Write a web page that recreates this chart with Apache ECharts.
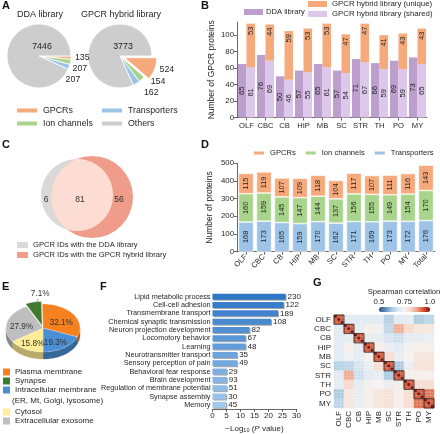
<!DOCTYPE html>
<html><head><meta charset="utf-8">
<script src="https://cdn.jsdelivr.net/npm/echarts@6/dist/echarts.min.js"></script>
<style>html,body{margin:0;padding:0;background:#fff}#c{width:440px;height:434px}</style>
</head><body><div id="c"></div>
<script>
// ---------- DATA ----------
// Panel A
const pieNames = ['GPCRs', 'Ion channels', 'Transporters', 'Others'];
const ddaPie = [135, 207, 207, 7446];
const hybridPie = [524, 154, 162, 3773];
// Panel B
const regions = ['OLF', 'CBC', 'CB', 'HIP', 'MB', 'SC', 'STR', 'TH', 'PO', 'MY'];
const ddaGpcr = [65, 76, 50, 57, 65, 57, 71, 66, 69, 73];
const hybridShared = [61, 69, 46, 55, 61, 54, 67, 59, 59, 65];
const hybridUnique = [53, 44, 59, 53, 53, 47, 47, 41, 43, 43];
const bTicks = [0, 20, 40, 60, 80, 100];
// Panel C
const vennDdaOnly = 6, vennShared = 81, vennHybridOnly = 56;
// Panel D
const dCats = ['OLF', 'CBC', 'CB', 'HIP', 'MB', 'SC', 'STR', 'TH', 'PO', 'MY', 'Total'];
const dTransporters = [168, 173, 165, 159, 170, 162, 171, 169, 173, 172, 176];
const dIon = [160, 159, 145, 147, 144, 137, 156, 155, 149, 154, 170];
const dGpcr = [115, 119, 107, 109, 118, 104, 117, 107, 111, 116, 143];
// Panel E
const eNames = ['Plasma membrane', 'Intracellular membrane', 'Cytosol', 'Extracellular exosome', 'Synapse'];
const ePct = [32.1, 19.3, 15.8, 27.9, 7.1];
// Panel F
const fTerms = ['Lipid metabolic process', 'Cell-cell adhesion', 'Transmembrane transport', 'Chemical synaptic transmission',
  'Neuron projection development', 'Locomotory behavior', 'Learning', 'Neurotransmitter transport',
  'Sensory perception of pain', 'Behavioral fear response', 'Brain development',
  'Regulation of membrane potential', 'Synapse assembly', 'Memory'];
const fLogP = [26.1, 25.4, 23.4, 20.9, 13.2, 11.8, 11.8, 8.8, 8.8, 5.1, 5.1, 5.1, 4.9, 4.9];
const fCounts = [230, 122, 189, 108, 82, 67, 48, 35, 49, 29, 93, 51, 30, 45];
// Panel G (region-level Spearman correlation; diagonal = within-region replicate correlation)
const gCorr = [
  [0.93, 0.70, 0.70, 0.70, 0.70, 0.64, 0.70, 0.71, 0.63, 0.65],
  [0.70, 0.93, 0.71, 0.76, 0.73, 0.65, 0.86, 0.81, 0.78, 0.78],
  [0.70, 0.71, 0.93, 0.71, 0.71, 0.68, 0.67, 0.71, 0.71, 0.72],
  [0.70, 0.76, 0.71, 0.93, 0.76, 0.72, 0.70, 0.74, 0.76, 0.76],
  [0.70, 0.73, 0.71, 0.76, 0.93, 0.80, 0.72, 0.75, 0.78, 0.78],
  [0.64, 0.65, 0.68, 0.72, 0.80, 0.93, 0.63, 0.72, 0.79, 0.79],
  [0.70, 0.86, 0.67, 0.70, 0.72, 0.63, 0.93, 0.76, 0.76, 0.76],
  [0.71, 0.81, 0.71, 0.74, 0.75, 0.72, 0.76, 0.93, 0.80, 0.80],
  [0.63, 0.78, 0.71, 0.76, 0.78, 0.79, 0.76, 0.80, 0.93, 0.91],
  [0.65, 0.78, 0.72, 0.76, 0.78, 0.79, 0.76, 0.80, 0.91, 0.93]
];
const gSelf = 1.0;
const gReps = 3;

// ---------- STYLE ----------
const FONT = '"Liberation Sans", Arial, sans-serif';
const TXT = '#262626';
const C_OR = '#F6A97B', C_GR = '#A9D48C', C_BL = '#9DC3E6', C_GY = '#CDCDCD';
const C_DDA = '#BC9FCD', C_SH = '#DDC7EA';
const axLine = { show: true, lineStyle: { color: '#444', width: 0.8 } };
const axTick = { show: true, length: 3, lineStyle: { color: '#444', width: 0.8 } };
const lbl = (fs) => ({ fontSize: fs, color: TXT, fontFamily: FONT });

const chart = echarts.init(document.getElementById('c'), null, { renderer: 'canvas' });

// titles
const title = [
  ['A', 2, 0], ['B', 201, 0], ['C', 2, 139], ['D', 201, 139], ['E', 2, 281], ['F', 100, 281], ['G', 313, 277]
].map(([t, l, tp]) => ({ text: t, left: l, top: tp, padding: 0, textStyle: { fontSize: 11, fontWeight: 'bold', color: '#111', fontFamily: FONT } }));
const tStyle = (fs) => ({ fontSize: fs, fontWeight: 'normal', color: TXT, fontFamily: FONT });
title.push({ text: 'DDA library', left: 40, top: 10, textAlign: 'center', padding: 0, textStyle: tStyle(9) });
title.push({ text: 'GPCR hybrid library', left: 121, top: 10, textAlign: 'center', padding: 0, textStyle: tStyle(9) });
title.push({ text: 'Spearman correlation', left: 404, top: 288, textAlign: 'center', padding: 0, textStyle: tStyle(7.6) });
title.push({ text: '(ER, Mt, Golgi, lysosome)', left: 12, top: 397, padding: 0, textStyle: tStyle(8) });

// ---------- SERIES ----------
const series = [];
const pieColors = [C_OR, C_GR, C_BL, C_GY];
function pieSeries(vals, cx, explode) {
  return {
    type: 'pie', center: [cx, 56], radius: [0, 32], startAngle: 0, clockwise: true,
    selectedMode: explode ? 'single' : false, selectedOffset: 5, silent: true,
    avoidLabelOverlap: true,
    itemStyle: { borderColor: '#fff', borderWidth: 0.8 },
    label: { show: true, position: 'outside', formatter: '{c}', ...lbl(8.8) },
    labelLine: { show: false, length: 3, length2: 1 },
    data: pieNames.map((n, i) => ({
      name: n, value: vals[i], selected: explode && i === 0,
      itemStyle: { color: pieColors[i] },
      label: i === 3 ? { position: 'center', offset: [3, -9] } : undefined
    }))
  };
}
series.push(pieSeries(ddaPie, 39, false));
series.push(pieSeries(hybridPie, 120, true));

// Panel B bars
const bLbl = { show: true, position: 'inside', rotate: 90, ...lbl(7.6) };
series.push({ type: 'bar', name: 'DDA library', xAxisIndex: 0, yAxisIndex: 0, data: ddaGpcr, barGap: '0%', barCategoryGap: '10%', itemStyle: { color: C_DDA }, label: bLbl });
series.push({ type: 'bar', name: 'GPCR hybrid library (shared)', stack: 'hy', xAxisIndex: 0, yAxisIndex: 0, data: hybridShared, barGap: '0%', barCategoryGap: '10%', itemStyle: { color: C_SH }, label: bLbl });
series.push({ type: 'bar', name: 'GPCR hybrid library (unique)', stack: 'hy', xAxisIndex: 0, yAxisIndex: 0, data: hybridUnique, barGap: '0%', barCategoryGap: '10%', itemStyle: { color: C_OR },
  label: { show: true, position: 'insideTop', distance: 3, rotate: 90, align: 'right', verticalAlign: 'middle', ...lbl(7.6) } });

// Panel C venn
const vG = { cx: 77, cy: 195, r: 36 }, vR = { cx: 92, cy: 197, r: 41 };
function lensPts(a, b) {
  const pts = [], N = 360;
  for (let k = 0; k < N; k++) {
    const t = 2 * Math.PI * k / N;
    let x = a.cx + a.r * Math.cos(t), y = a.cy + a.r * Math.sin(t);
    if ((x - b.cx) ** 2 + (y - b.cy) ** 2 <= b.r * b.r) pts.push([x, y]);
    x = b.cx + b.r * Math.cos(t); y = b.cy + b.r * Math.sin(t);
    if ((x - a.cx) ** 2 + (y - a.cy) ** 2 <= a.r * a.r) pts.push([x, y]);
  }
  let mx = 0, my = 0; pts.forEach(p => { mx += p[0]; my += p[1]; }); mx /= pts.length; my /= pts.length;
  pts.sort((p, q) => Math.atan2(p[1] - my, p[0] - mx) - Math.atan2(q[1] - my, q[0] - mx));
  return pts;
}
const vennTxt = (t, x, y) => ({ type: 'text', z2: 100, style: { text: String(t), x, y, align: 'center', verticalAlign: 'middle', fontSize: 8.5, fill: '#333', fontFamily: FONT } });
series.push({ type: 'custom', name: 'GPCR IDs with the DDA library', coordinateSystem: 'none', silent: true, itemStyle: { color: '#D9D9D9' }, data: [[vennDdaOnly]],
  renderItem: (p, api) => ({ type: 'group', children: [
    { type: 'circle', shape: { cx: vG.cx, cy: vG.cy, r: vG.r }, style: { fill: '#D9D9D9' } },
    vennTxt(api.value(0), ((vG.cx - vG.r) + (vR.cx - vR.r)) / 2, 200)
  ] }) });
series.push({ type: 'custom', name: 'GPCR IDs with the GPCR hybrid library', coordinateSystem: 'none', silent: true, itemStyle: { color: '#F09C8A' }, data: [[vennShared, vennHybridOnly]],
  renderItem: (p, api) => ({ type: 'group', children: [
    { type: 'circle', shape: { cx: vR.cx, cy: vR.cy, r: vR.r }, style: { fill: '#F09C8A' } },
    { type: 'polygon', shape: { points: lensPts(vG, vR) }, style: { fill: '#FDDCD3' } },
    vennTxt(api.value(0), ((vR.cx - vR.r) + (vG.cx + vG.r)) / 2 - 2, 200),
    vennTxt(api.value(1), ((vG.cx + vG.r) + (vR.cx + vR.r)) / 2 - 4, 200)
  ] }) });

// Panel D stacked bars
const dLbl = { show: true, position: 'inside', rotate: 90, ...lbl(7.4) };
[['Transporters', dTransporters, C_BL], ['Ion channels', dIon, C_GR], ['GPCRs', dGpcr, C_OR]].forEach(([n, d, c]) => {
  series.push({ type: 'bar', name: n, stack: 'd', xAxisIndex: 1, yAxisIndex: 1, data: d, barCategoryGap: '16%',
    itemStyle: { color: c, borderColor: '#fff', borderWidth: 0.6 }, label: dLbl });
});

// Panel E pseudo-3D pie
const eColors = ['#F5821F', '#4A8FD6', '#FFEC94', '#BEBEBE', '#3E7B2E'];
const E = { cx: 43, cy: 328, rx: 37, ry: 24, d: 7 };
function darken(hex, f) {
  const n = parseInt(hex.slice(1), 16);
  const r = Math.round(((n >> 16) & 255) * f), g = Math.round(((n >> 8) & 255) * f), b = Math.round((n & 255) * f);
  return `rgb(${r},${g},${b})`;
}
function arcPts(cx, cy, a0, a1, dy) {
  const pts = [], n = Math.max(4, Math.ceil((a1 - a0) / 0.05));
  for (let k = 0; k <= n; k++) { const a = a0 + (a1 - a0) * k / n; pts.push([cx + E.rx * Math.cos(a), cy + E.ry * Math.sin(a) + dy]); }
  return pts;
}
function eRender(params, api) {
  const i = api.value(0);
  const tot = ePct.reduce((a, b) => a + b, 0);
  let cum = 0; for (let k = 0; k < i; k++) cum += ePct[k];
  const start = -Math.PI / 2 - 0.02;
  const a0 = start + cum / tot * 2 * Math.PI, a1 = a0 + ePct[i] / tot * 2 * Math.PI, mid = (a0 + a1) / 2;
  const ex = i === 4 ? 4 : 0;
  const cx = E.cx + ex * Math.cos(mid), cy = E.cy + ex * Math.sin(mid) * E.ry / E.rx;
  const col = eColors[i];
  const ch = [];
  for (let m = -1; m <= 1; m++) {
    const s = Math.max(a0, 2 * Math.PI * m), e = Math.min(a1, 2 * Math.PI * m + Math.PI);
    if (e > s) {
      const top = arcPts(cx, cy, s, e, 0), bot = arcPts(cx, cy, s, e, E.d).reverse();
      ch.push({ type: 'polygon', z2: 1, shape: { points: top.concat(bot) }, style: { fill: darken(col, 0.72), stroke: darken(col, 0.72), lineWidth: 0.3 } });
    }
  }
  ch.push({ type: 'polygon', z2: 5, shape: { points: [[cx, cy]].concat(arcPts(cx, cy, a0, a1, 0)) }, style: { fill: col, stroke: 'rgba(255,255,255,0.6)', lineWidth: 0.4 } });
  const txt = ePct[i].toFixed(1) + '%';
  if (i === 4) {
    const px = cx + E.rx * 0.9 * Math.cos(mid), py = cy + E.ry * 0.9 * Math.sin(mid);
    ch.push({ type: 'line', z2: 10, shape: { x1: px + 1, y1: py + 2, x2: px + 4, y2: py - 6 }, style: { stroke: '#777', lineWidth: 0.6 } });
    ch.push({ type: 'text', z2: 10, style: { text: txt, x: px + 6, y: py - 11, align: 'center', verticalAlign: 'middle', fontSize: 8.2, fill: '#333', fontFamily: FONT } });
  } else {
    ch.push({ type: 'text', z2: 10, style: { text: txt, x: cx + 0.6 * E.rx * Math.cos(mid), y: cy + 0.6 * E.ry * Math.sin(mid) + 2.5, align: 'center', verticalAlign: 'middle', fontSize: 8.2, fill: '#333', fontFamily: FONT } });
  }
  return { type: 'group', children: ch };
}
eNames.forEach((n, i) => series.push({ type: 'custom', name: n, coordinateSystem: 'none', silent: true, itemStyle: { color: eColors[i] }, data: [[i]], renderItem: eRender }));

// Panel F
const fC0 = [46, 119, 198], fC1 = [160, 200, 236];
const fColor = (i) => { const t = i / (fTerms.length - 1); return `rgb(${fC0.map((c, k) => Math.round(c + (fC1[k] - c) * t)).join(',')})`; };
series.push({ type: 'bar', name: 'GO', xAxisIndex: 2, yAxisIndex: 2, barWidth: 6,
  data: fLogP.map((v, i) => ({ value: v, itemStyle: { color: fColor(i) } })),
  itemStyle: { shadowColor: 'rgba(0,0,0,0.35)', shadowOffsetX: 1, shadowOffsetY: 1, shadowBlur: 0.1 },
  label: { show: true, position: 'right', distance: 2, formatter: (p) => fCounts[p.dataIndex], ...lbl(8) } });

// Panel G heatmap
const sampleIds = [];
regions.forEach(r => { for (let k = 1; k <= gReps; k++) sampleIds.push(r + '_' + k); });
const heatData = [];
for (let i = 0; i < sampleIds.length; i++) for (let j = 0; j < sampleIds.length; j++) {
  heatData.push([j, i, i === j ? gSelf : gCorr[Math.floor(i / gReps)][Math.floor(j / gReps)]]);
}
const heatIdx = series.length;
series.push({ type: 'heatmap', xAxisIndex: 3, yAxisIndex: 3, data: heatData, silent: true,
  itemStyle: { borderColor: 'rgba(255,255,255,0.35)', borderWidth: 0.4 } });
series.push({ type: 'custom', xAxisIndex: 3, yAxisIndex: 3, silent: true, z: 5,
  data: regions.map((r, k) => [k * gReps, k * gReps]),
  renderItem: (p, api) => {
    const c = api.coord([api.value(0), api.value(1)]), s = api.size([1, 1]);
    return { type: 'rect', shape: { x: c[0] - s[0] / 2, y: c[1] - s[1] / 2, width: s[0] * gReps, height: s[1] * gReps }, style: { fill: 'none', stroke: '#222', lineWidth: 0.8 } };
  } });

// ---------- OPTION ----------
const legBase = { icon: 'rect', selectedMode: false, padding: 0 };
const option = {
  animation: false,
  textStyle: { fontFamily: FONT },
  title,
  grid: [
    { left: 237, top: 22, width: 190, height: 95.5 },   // B
    { left: 237, top: 163.3, width: 198, height: 88.4 }, // D
    { left: 212.5, top: 292.5, width: 84, height: 118.5 }, // F
    { left: 334, top: 315, width: 100, height: 93 },     // G heatmap
    { left: 379, top: 307, width: 51, height: 5 }        // G colorbar labels
  ],
  xAxis: [
    { gridIndex: 0, type: 'category', data: regions, axisLine: axLine, axisTick: { ...axTick, alignWithLabel: true }, axisLabel: { ...lbl(7.6), margin: 4, interval: 0 } },
    { gridIndex: 1, type: 'category', data: dCats, axisLine: axLine, axisTick: { ...axTick, alignWithLabel: true }, axisLabel: { ...lbl(7.6), rotate: 45, margin: 4, interval: 0 } },
    { gridIndex: 2, type: 'value', min: 0, max: 30, interval: 5, axisLine: axLine, axisTick: axTick, splitLine: { show: false }, axisLabel: { ...lbl(8), margin: 3 },
      name: '\u2212Log{s|10} ({i|P} value)', nameLocation: 'middle', nameGap: 15,
      nameTextStyle: { ...lbl(8), rich: { s: { fontSize: 5.5, verticalAlign: 'bottom', padding: [3, 0, 0, 0] }, i: { fontStyle: 'italic', fontSize: 8 } } } },
    { gridIndex: 3, type: 'category', data: sampleIds, axisLine: { show: false }, axisTick: { show: false },
      axisLabel: { ...lbl(8), rotate: 90, margin: 3, interval: (idx) => idx % gReps === 1, formatter: (v) => v.split('_')[0] } },
    { gridIndex: 4, type: 'value', position: 'top', min: 0.5, max: 1.0, interval: 0.25, axisLine: { show: false }, axisTick: { show: false }, splitLine: { show: false },
      axisLabel: { ...lbl(7.8), margin: 1, formatter: (v) => (v === 1 ? '1.0' : String(v)) } }
  ],
  yAxis: [
    { gridIndex: 0, type: 'value', min: 0, max: 116, interval: 20, axisLine: axLine,
      axisTick: { ...axTick, customValues: bTicks }, axisLabel: { ...lbl(7.8), margin: 3, customValues: bTicks }, splitLine: { show: false },
      name: 'Number of GPCR proteins', nameLocation: 'middle', nameGap: 21, nameTextStyle: lbl(8.5) },
    { gridIndex: 1, type: 'value', min: 0, max: 500, interval: 100, axisLine: axLine, axisTick: axTick, axisLabel: { ...lbl(7.8), margin: 3 }, splitLine: { show: false },
      name: 'Number of proteins', nameLocation: 'middle', nameGap: 23, nameTextStyle: lbl(8.5) },
    { gridIndex: 2, type: 'category', inverse: true, data: fTerms, axisLine: { show: false }, axisTick: { show: false }, axisLabel: { ...lbl(7.3), margin: 2, interval: 0 } },
    { gridIndex: 3, type: 'category', inverse: true, data: sampleIds, axisLine: { show: false }, axisTick: { show: false },
      axisLabel: { ...lbl(8), margin: 3, interval: (idx) => idx % gReps === 1, formatter: (v) => v.split('_')[0] } },
    { gridIndex: 4, type: 'value', show: false }
  ],
  visualMap: {
    type: 'continuous', min: 0.5, max: 1.0, seriesIndex: heatIdx, orient: 'horizontal', left: 379, top: 307,
    itemWidth: 5, itemHeight: 51, calculable: false, padding: 0, text: null, showLabel: false,
    inRange: { color: ['#2A5B88', '#5A8DBB', '#A8C8E0', '#DCE8F2', '#F5F2F0', '#F6D8C8', '#EDA080', '#D4502F', '#7E1512'] }
  },
  legend: [
    { ...legBase, left: 15, top: 106, orient: 'vertical', itemWidth: 22, itemHeight: 6, itemGap: 4, data: ['GPCRs', 'Ion channels'], textStyle: lbl(8.8) },
    { ...legBase, left: 100, top: 106, orient: 'vertical', itemWidth: 22, itemHeight: 6, itemGap: 4, data: ['Transporters', 'Others'], textStyle: lbl(8.8) },
    { ...legBase, left: 244, top: 8, itemWidth: 19, itemHeight: 6, itemGap: 4, data: ['DDA library'], textStyle: { ...lbl(7.6), padding: [0, 0, 0, -2] } },
    { ...legBase, left: 308, top: 0, orient: 'vertical', itemWidth: 19, itemHeight: 6, itemGap: 2, data: ['GPCR hybrid library (unique)', 'GPCR hybrid library (shared)'], textStyle: lbl(7.8) },
    { ...legBase, left: 17, top: 241, orient: 'vertical', itemWidth: 11, itemHeight: 6, itemGap: 2, data: ['GPCR IDs with the DDA library', 'GPCR IDs with the GPCR hybrid library'], textStyle: lbl(7.6) },
    { ...legBase, left: 252, top: 149, width: 200, itemWidth: 12, itemHeight: 5, itemGap: 8, data: ['GPCRs', 'Ion channels', 'Transporters'], textStyle: lbl(7.6) },
    { ...legBase, left: 3, top: 368, orient: 'vertical', itemWidth: 7, itemHeight: 7, itemGap: 1, data: ['Plasma membrane', 'Synapse', 'Intracellular membrane'], textStyle: lbl(8) },
    { ...legBase, left: 3, top: 408, orient: 'vertical', itemWidth: 7, itemHeight: 7, itemGap: 1, data: ['Cytosol', 'Extracellular exosome'], textStyle: lbl(8) }
  ],
  series
};
chart.setOption(option);
</script></body></html>
